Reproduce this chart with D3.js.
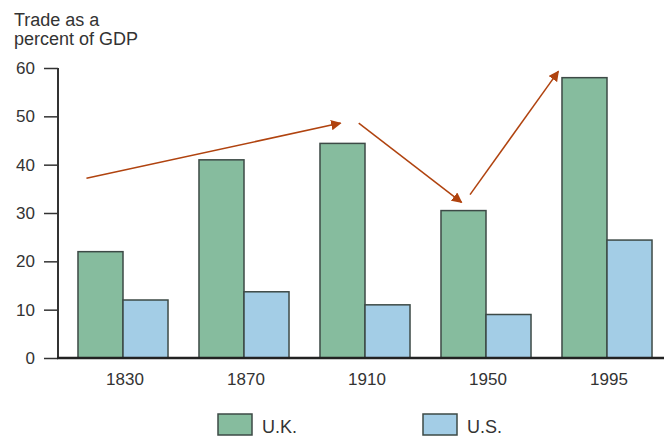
<!DOCTYPE html>
<html>
<head>
<meta charset="utf-8">
<script src="https://cdn.jsdelivr.net/npm/d3@7"></script>
<style>
  body { margin: 0; background: #fff; }
  text { font-family: "Liberation Sans", Arial, sans-serif; fill: #333; }
</style>
</head>
<body>
<div id="chart"></div>
<script>
// Data
const years = ["1830", "1870", "1910", "1950", "1995"];
const series = ["U.K.", "U.S."];
const ukValues = [22, 41, 44.4, 30.5, 58];
const usValues = [12, 13.7, 11, 9, 24.4];
const yTicks = [0, 10, 20, 30, 40, 50, 60];
// trend arrows: start/end given as [year, offset within group step, value]
const arrows = [
  { from: ["1830", 0.07, 37.2], to: ["1910", 0.17, 48.6] },
  { from: ["1910", 0.32, 48.6], to: ["1950", 0.17, 32.2] },
  { from: ["1950", 0.24, 33.8], to: ["1995", -0.03, 59.3] }
];

const width = 664, height = 438;
const colors = { "U.K.": "#86bc9e", "U.S.": "#a3cde6" };

const svg = d3.select("#chart").append("svg")
    .attr("width", width)
    .attr("height", height);

const x = d3.scaleBand()
    .domain(years)
    .range([62.5, 667.5])
    .paddingInner(0.256)
    .paddingOuter(0.128);

const xSeries = d3.scaleBand()
    .domain(series)
    .range([0, x.bandwidth()]);

const y = d3.scaleLinear()
    .domain([0, 60])
    .range([358, 68]);

// Title
svg.append("text")
    .attr("x", 14)
    .attr("y", 26)
    .style("font-size", "18px")
    .selectAll("tspan")
    .data(["Trade as a", "percent of GDP"])
    .enter()
    .append("tspan")
    .attr("x", 14)
    .attr("dy", (d, i) => i ? 19 : 0)
    .text(d => d);

// Bars
const rows = years.map((yr, i) => ({ year: yr, values: [
    { key: "U.K.", value: ukValues[i] },
    { key: "U.S.", value: usValues[i] }
] }));

const groups = svg.selectAll(".group")
    .data(rows)
    .enter()
    .append("g")
    .attr("transform", d => `translate(${x(d.year)},0)`);

groups.selectAll("rect")
    .data(d => d.values)
    .enter()
    .append("rect")
    .attr("x", d => xSeries(d.key))
    .attr("y", d => y(d.value))
    .attr("width", xSeries.bandwidth())
    .attr("height", d => y(0) - y(d.value))
    .attr("fill", d => colors[d.key])
    .attr("stroke", "#3d4a46")
    .attr("stroke-width", 1.5);

// Y axis
const yAxis = svg.append("g")
    .attr("transform", "translate(58,0)")
    .call(d3.axisLeft(y).tickValues(yTicks).tickSize(14).tickPadding(9));
yAxis.select(".domain").remove();
yAxis.selectAll(".tick line").attr("stroke", "#333").attr("stroke-width", 1.5);
yAxis.selectAll(".tick text")
    .style("font-size", "17px")
    .style("font-family", "'Liberation Sans', Arial, sans-serif")
    .attr("fill", "#333");

svg.append("line")
    .attr("x1", 58).attr("x2", 58)
    .attr("y1", y(60)).attr("y2", y(0) + 1)
    .attr("stroke", "#333")
    .attr("stroke-width", 2);

// X baseline
svg.append("line")
    .attr("x1", 57).attr("x2", width)
    .attr("y1", y(0)).attr("y2", y(0))
    .attr("stroke", "#222")
    .attr("stroke-width", 2.5);

// X labels
svg.selectAll(".xlabel")
    .data(years)
    .enter()
    .append("text")
    .attr("x", d => x(d) + x.bandwidth() / 2 + 2)
    .attr("y", 385)
    .attr("text-anchor", "middle")
    .style("font-size", "17px")
    .text(d => d);

// Arrows
svg.append("defs").append("marker")
    .attr("id", "head")
    .attr("viewBox", "0 0 10 10")
    .attr("refX", 9)
    .attr("refY", 5)
    .attr("markerWidth", 7)
    .attr("markerHeight", 7)
    .attr("orient", "auto")
    .append("path")
    .attr("d", "M0,0L10,5L0,10z")
    .attr("fill", "#b0430f");

const px = p => x(p[0]) + p[1] * x.step();

svg.selectAll(".arrow")
    .data(arrows)
    .enter()
    .append("line")
    .attr("x1", d => px(d.from))
    .attr("y1", d => y(d.from[2]))
    .attr("x2", d => px(d.to))
    .attr("y2", d => y(d.to[2]))
    .attr("stroke", "#b0430f")
    .attr("stroke-width", 1.5)
    .attr("marker-end", "url(#head)");

// Legend
const legend = svg.selectAll(".legend")
    .data(series)
    .enter()
    .append("g")
    .attr("transform", (d, i) => `translate(${218 + i * 205},414)`);

legend.append("rect")
    .attr("width", 34)
    .attr("height", 21)
    .attr("fill", d => colors[d])
    .attr("stroke", "#3d4a46")
    .attr("stroke-width", 1.5);

legend.append("text")
    .attr("x", 44)
    .attr("y", 19)
    .style("font-size", "18px")
    .text(d => d);
</script>
</body>
</html>
